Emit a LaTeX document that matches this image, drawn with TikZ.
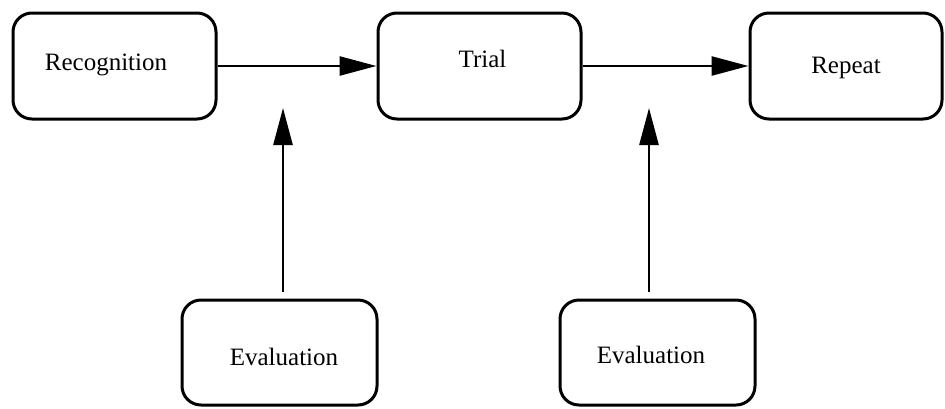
\documentclass[tikz,border=0pt]{standalone}
\usepackage{fontspec}
\setmainfont{Liberation Serif}
\usetikzlibrary{arrows.meta}
\begin{document}
\begin{tikzpicture}[x=1pt,y=-1pt,
  stagebox/.style={draw=black, line width=3pt, rounded corners=19pt,
    inner sep=0pt, minimum height=106pt},
  stagetext/.style={anchor=base, inner sep=0pt,
    font=\fontsize{25}{30}\selectfont},
  flow/.style={draw=black, line width=2.6pt,
    -{Triangle[length=37pt,width=19pt]}}
]
\useasboundingbox (0,0) rectangle (945,408);

% process stages along the top
\node[stagebox, minimum width=203pt] (rec)   at (114.5,66) {};
\node[stagebox, minimum width=203pt] (trial) at (479.5,66) {};
\node[stagebox, minimum width=192pt] (rep)   at (846,66) {};

% evaluation boxes underneath
\node[stagebox, minimum width=195pt, minimum height=105pt] (evalA) at (279.5,352.5) {};
\node[stagebox, minimum width=195pt, minimum height=105pt] (evalB) at (657.5,352.5) {};

% labels
\node[stagetext] (recT)   at (106,70)   {Recognition};
\node[stagetext] (trialT) at (482.5,67) {Trial};
\node[stagetext] (repT)   at (846,73)   {Repeat};
\node[stagetext] (evalAT) at (284,365)  {Evaluation};
\node[stagetext] (evalBT) at (651,363)  {Evaluation};

% feedback arrow end points
\coordinate (upAfrom) at (283,292);
\coordinate (upAto)   at (283,108);
\coordinate (upBfrom) at (649,292);
\coordinate (upBto)   at (649,108);

% connectors
\draw[flow] (rec.east) -- (trial.west);
\draw[flow] (trial.east) -- (rep.west);
\draw[flow] (upAfrom) -- (upAto);
\draw[flow] (upBfrom) -- (upBto);
\end{tikzpicture}
\end{document}
